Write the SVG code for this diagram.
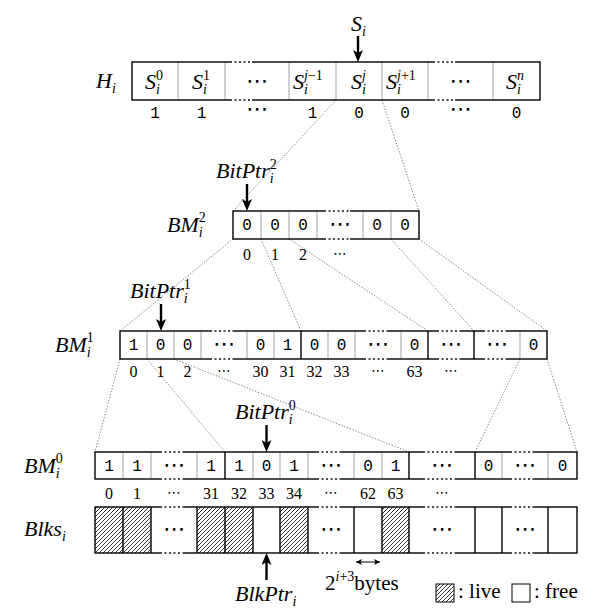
<svg xmlns="http://www.w3.org/2000/svg" width="610" height="610" viewBox="0 0 610 610">
<style>
.box{fill:none;stroke:#000;stroke-width:1.4}
.dv{stroke:#999;stroke-width:0.9}
.dk{stroke:#000;stroke-width:1.4}
.gap{stroke:#fff;stroke-width:2.2;stroke-dasharray:2.5 2}
.dot{fill:none;stroke:#666;stroke-width:0.8;stroke-dasharray:1.4 1.6}
.m{font-family:"Liberation Serif",serif;font-style:italic;font-size:22px}
.s{font-size:14px}
.n{font-style:normal}
.tt{font-family:"Liberation Mono",monospace;font-size:16px;text-anchor:middle}
.rm{font-family:"Liberation Serif",serif;font-size:16px;text-anchor:middle}
.cd{font-family:"DejaVu Sans",sans-serif;font-size:22px;text-anchor:middle}
.cds{font-family:"DejaVu Sans",sans-serif;font-size:14px;text-anchor:middle}
.rt{font-family:"Liberation Serif",serif;font-size:21px}
.arr{stroke:#000;stroke-width:2.4;fill:none}
</style>
<defs>
<marker id="ah" viewBox="0 0 12 10" refX="4" refY="5" markerWidth="12" markerHeight="10" orient="auto" markerUnits="userSpaceOnUse"><path d="M0,0 L12,5 L0,10 L3,5 z" fill="#000"/></marker>
<marker id="sa" viewBox="0 0 6 6" refX="6" refY="3" markerWidth="6" markerHeight="6" orient="auto-start-reverse" markerUnits="userSpaceOnUse"><path d="M0,0 L6,3 L0,6 L1.5,3 z" fill="#000"/></marker>
<pattern id="hatch" patternUnits="userSpaceOnUse" width="4" height="4"><path d="M-1,1 L1,-1 M0,4 L4,0 M3,5 L5,3" stroke="#000" stroke-width="0.8"/></pattern>
</defs>

<g id="connectors">
<line class="dot" x1="336" y1="100" x2="233" y2="211"/>
<line class="dot" x1="382" y1="100" x2="419" y2="211"/>
<line class="dot" x1="233" y1="239" x2="120" y2="331"/>
<line class="dot" x1="261" y1="239" x2="301" y2="331"/>
<line class="dot" x1="289" y1="239" x2="428" y2="331"/>
<line class="dot" x1="391" y1="239" x2="474" y2="331"/>
<line class="dot" x1="419" y1="239" x2="547" y2="331"/>
<line class="dot" x1="120" y1="359" x2="95" y2="452"/>
<line class="dot" x1="147" y1="359" x2="225" y2="452"/>
<line class="dot" x1="174" y1="359" x2="409" y2="452"/>
<line class="dot" x1="520" y1="359" x2="475" y2="452"/>
<line class="dot" x1="547" y1="359" x2="577" y2="452"/>
</g>

<g id="Si">
<text class="m" x="351" y="31">S<tspan class="s" dy="5">i</tspan></text>
<line class="arr" x1="358" y1="36" x2="358" y2="54" marker-end="url(#ah)"/>
</g>

<g id="Hi">
<text class="m" x="96" y="88">H<tspan class="s" dy="5">i</tspan></text>
<rect x="132" y="62" width="408" height="38" fill="#fff" stroke="none"/>
<g class="dv"><line x1="178" y1="62" x2="178" y2="100"/><line x1="225" y1="62" x2="225" y2="100"/><line x1="289" y1="62" x2="289" y2="100"/><line x1="336" y1="62" x2="336" y2="100"/><line x1="382" y1="62" x2="382" y2="100"/><line x1="428" y1="62" x2="428" y2="100"/><line x1="493" y1="62" x2="493" y2="100"/></g>
<rect class="box" x="132" y="62" width="408" height="38"/>
<g class="gap"><line x1="232" y1="62" x2="252" y2="62"/><line x1="232" y1="100" x2="252" y2="100"/><line x1="435" y1="62" x2="455" y2="62"/><line x1="435" y1="100" x2="455" y2="100"/></g>
<text class="m" x="145" y="89">S<tspan class="s n" dy="-9">0</tspan><tspan class="s" dx="-7" dy="14">i</tspan></text>
<text class="m" x="192" y="89">S<tspan class="s n" dy="-9">1</tspan><tspan class="s" dx="-7" dy="14">i</tspan></text>
<text class="cd" x="257" y="88">⋯</text>
<text class="m" x="293" y="89">S<tspan class="s" dy="-9">j</tspan><tspan class="s n">−1</tspan><tspan class="s" dx="-18.8" dy="14">i</tspan></text>
<text class="m" x="351" y="89">S<tspan class="s" dy="-9">j</tspan><tspan class="s" dx="-3.9" dy="14">i</tspan></text>
<text class="m" x="386" y="89">S<tspan class="s" dy="-9">j</tspan><tspan class="s n">+1</tspan><tspan class="s" dx="-18.8" dy="14">i</tspan></text>
<text class="cd" x="460.5" y="88">⋯</text>
<text class="m" x="506" y="89">S<tspan class="s" dy="-9">n</tspan><tspan class="s" dx="-7" dy="14">i</tspan></text>
<g class="tt"><text x="155" y="118">1</text><text x="201.5" y="118">1</text><text x="312.5" y="118">1</text><text x="359" y="118">0</text><text x="405" y="118">0</text><text x="516.5" y="118">0</text></g>
<text class="cd" x="257" y="116" font-size="17">⋯</text><text class="cd" x="460.5" y="116" font-size="17">⋯</text>
</g>

<g id="BitPtr2">
<text class="m" x="216" y="178">BitPtr<tspan class="s n" dy="-9">2</tspan><tspan class="s" dx="-7" dy="14">i</tspan></text>
<line class="arr" x1="247" y1="184" x2="247" y2="203" marker-end="url(#ah)"/>
</g>

<g id="BM2">
<text class="m" x="167" y="232">BM<tspan class="s n" dy="-10">2</tspan><tspan class="s" dx="-7" dy="15">i</tspan></text>
<g class="dv"><line x1="261" y1="211" x2="261" y2="239"/><line x1="289" y1="211" x2="289" y2="239"/><line x1="317" y1="211" x2="317" y2="239"/><line x1="363" y1="211" x2="363" y2="239"/><line x1="391" y1="211" x2="391" y2="239"/></g>
<rect class="box" x="233" y="211" width="186" height="28"/>
<g class="gap"><line x1="326" y1="211" x2="350" y2="211"/><line x1="326" y1="239" x2="350" y2="239"/></g>
<g class="tt"><text x="247" y="230">0</text><text x="275" y="230">0</text><text x="303" y="230">0</text><text x="377" y="230">0</text><text x="405" y="230">0</text></g>
<text class="cd" x="340" y="231">⋯</text>
<g class="rm"><text x="247" y="260">0</text><text x="275" y="260">1</text><text x="303" y="260">2</text></g>
<text class="cds" x="340" y="258">⋯</text>
</g>

<g id="BitPtr1">
<text class="m" x="130" y="298">BitPtr<tspan class="s n" dy="-9">1</tspan><tspan class="s" dx="-7" dy="14">i</tspan></text>
<line class="arr" x1="161" y1="304" x2="161" y2="323" marker-end="url(#ah)"/>
</g>

<g id="BM1">
<text class="m" x="55" y="352">BM<tspan class="s n" dy="-10">1</tspan><tspan class="s" dx="-7" dy="15">i</tspan></text>
<g class="dv"><line x1="147" y1="331" x2="147" y2="359"/><line x1="174" y1="331" x2="174" y2="359"/><line x1="201" y1="331" x2="201" y2="359"/><line x1="247" y1="331" x2="247" y2="359"/><line x1="274" y1="331" x2="274" y2="359"/><line x1="328" y1="331" x2="328" y2="359"/><line x1="355" y1="331" x2="355" y2="359"/><line x1="401" y1="331" x2="401" y2="359"/><line x1="520" y1="331" x2="520" y2="359"/></g>
<g class="dk"><line x1="301" y1="331" x2="301" y2="359"/><line x1="428" y1="331" x2="428" y2="359"/><line x1="474" y1="331" x2="474" y2="359"/></g>
<rect class="box" x="120" y="331" width="427" height="28"/>
<g class="gap"><line x1="212" y1="331" x2="234" y2="331"/><line x1="212" y1="359" x2="234" y2="359"/><line x1="366" y1="331" x2="388" y2="331"/><line x1="366" y1="359" x2="388" y2="359"/><line x1="439" y1="331" x2="461" y2="331"/><line x1="439" y1="359" x2="461" y2="359"/><line x1="485" y1="331" x2="507" y2="331"/><line x1="485" y1="359" x2="507" y2="359"/></g>
<g class="tt"><text x="133.5" y="350">1</text><text x="160.5" y="350">0</text><text x="187.5" y="350">0</text><text x="260.5" y="350">0</text><text x="287.5" y="350">1</text><text x="314.5" y="350">0</text><text x="341.5" y="350">0</text><text x="414.5" y="350">0</text><text x="533.5" y="350">0</text></g>
<g class="cd"><text x="224" y="351">⋯</text><text x="378" y="351">⋯</text><text x="451" y="351">⋯</text><text x="497" y="351">⋯</text></g>
<g class="rm"><text x="133.5" y="377">0</text><text x="160.5" y="377">1</text><text x="187.5" y="377">2</text><text x="260.5" y="377">30</text><text x="287.5" y="377">31</text><text x="314.5" y="377">32</text><text x="341.5" y="377">33</text><text x="414.5" y="377">63</text></g>
<g class="cds"><text x="224" y="375">⋯</text><text x="378" y="375">⋯</text><text x="451" y="375">⋯</text></g>
</g>

<g id="BitPtr0">
<text class="m" x="235" y="419">BitPtr<tspan class="s n" dy="-9">0</tspan><tspan class="s" dx="-7" dy="14">i</tspan></text>
<line class="arr" x1="266.5" y1="425" x2="266.5" y2="444" marker-end="url(#ah)"/>
</g>

<g id="BM0">
<text class="m" x="24" y="473">BM<tspan class="s n" dy="-10">0</tspan><tspan class="s" dx="-7" dy="15">i</tspan></text>
<g class="dv"><line x1="123" y1="452" x2="123" y2="479"/><line x1="151" y1="452" x2="151" y2="479"/><line x1="197" y1="452" x2="197" y2="479"/><line x1="253" y1="452" x2="253" y2="479"/><line x1="280" y1="452" x2="280" y2="479"/><line x1="308" y1="452" x2="308" y2="479"/><line x1="354" y1="452" x2="354" y2="479"/><line x1="382" y1="452" x2="382" y2="479"/><line x1="502" y1="452" x2="502" y2="479"/><line x1="548" y1="452" x2="548" y2="479"/></g>
<g class="dk"><line x1="225" y1="452" x2="225" y2="479"/><line x1="409" y1="452" x2="409" y2="479"/><line x1="475" y1="452" x2="475" y2="479"/></g>
<rect class="box" x="95" y="452" width="482" height="27"/>
<g class="gap"><line x1="162" y1="452" x2="184" y2="452"/><line x1="162" y1="479" x2="184" y2="479"/><line x1="319" y1="452" x2="341" y2="452"/><line x1="319" y1="479" x2="341" y2="479"/><line x1="425" y1="452" x2="455" y2="452"/><line x1="425" y1="479" x2="455" y2="479"/><line x1="512" y1="452" x2="534" y2="452"/><line x1="512" y1="479" x2="534" y2="479"/></g>
<g class="tt"><text x="109" y="471">1</text><text x="137" y="471">1</text><text x="211" y="471">1</text><text x="239" y="471">1</text><text x="266.5" y="471">0</text><text x="294" y="471">1</text><text x="368" y="471">0</text><text x="395.5" y="471">1</text><text x="488.5" y="471">0</text><text x="562.5" y="471">0</text></g>
<g class="cd"><text x="174" y="472">⋯</text><text x="331" y="472">⋯</text><text x="442" y="472">⋯</text><text x="525" y="472">⋯</text></g>
<g class="rm"><text x="109" y="499">0</text><text x="137" y="499">1</text><text x="211" y="499">31</text><text x="239" y="499">32</text><text x="266.5" y="499">33</text><text x="294" y="499">34</text><text x="368" y="499">62</text><text x="395.5" y="499">63</text></g>
<g class="cds"><text x="174" y="497">⋯</text><text x="331" y="497">⋯</text><text x="442" y="497">⋯</text></g>
</g>

<g id="Blks">
<text class="m" x="24" y="536">Blks<tspan class="s" dy="5">i</tspan></text>
<g fill="url(#hatch)" stroke="none"><rect x="95" y="507" width="28" height="46"/><rect x="123" y="507" width="28" height="46"/><rect x="197" y="507" width="28" height="46"/><rect x="225" y="507" width="28" height="46"/><rect x="280" y="507" width="28" height="46"/><rect x="382" y="507" width="27" height="46"/></g>
<g class="dk"><line x1="123" y1="507" x2="123" y2="553"/><line x1="151" y1="507" x2="151" y2="553"/><line x1="197" y1="507" x2="197" y2="553"/><line x1="225" y1="507" x2="225" y2="553"/><line x1="253" y1="507" x2="253" y2="553"/><line x1="280" y1="507" x2="280" y2="553"/><line x1="308" y1="507" x2="308" y2="553"/><line x1="354" y1="507" x2="354" y2="553"/><line x1="382" y1="507" x2="382" y2="553"/><line x1="409" y1="507" x2="409" y2="553"/><line x1="475" y1="507" x2="475" y2="553"/><line x1="502" y1="507" x2="502" y2="553"/><line x1="548" y1="507" x2="548" y2="553"/></g>
<rect class="box" x="95" y="507" width="482" height="46"/>
<g class="gap"><line x1="162" y1="507" x2="184" y2="507"/><line x1="162" y1="553" x2="184" y2="553"/><line x1="319" y1="507" x2="341" y2="507"/><line x1="319" y1="553" x2="341" y2="553"/><line x1="425" y1="507" x2="455" y2="507"/><line x1="425" y1="553" x2="455" y2="553"/><line x1="512" y1="507" x2="534" y2="507"/><line x1="512" y1="553" x2="534" y2="553"/></g>
<g class="cd"><text x="174" y="536">⋯</text><text x="331" y="536">⋯</text><text x="442" y="536">⋯</text><text x="525" y="536">⋯</text></g>
</g>

<g id="BlkPtr">
<line class="arr" x1="266.5" y1="580" x2="266.5" y2="561" marker-end="url(#ah)"/>
<text class="m" x="235" y="601">BlkPtr<tspan class="s" dy="5">i</tspan></text>
</g>

<g id="bytes">
<line x1="356" y1="562" x2="380" y2="562" stroke="#000" stroke-width="1" marker-start="url(#sa)" marker-end="url(#sa)"/>
<text class="rt" x="325" y="590">2<tspan font-size="14" dy="-9"><tspan font-style="italic">i</tspan>+3</tspan><tspan dy="9">bytes</tspan></text>
</g>

<g id="legend">
<rect x="436" y="584" width="18" height="18" fill="url(#hatch)" stroke="#000" stroke-width="1"/>
<text class="rt" x="458" y="598" font-size="20">: live</text>
<rect x="512" y="584" width="18" height="18" fill="#fff" stroke="#000" stroke-width="1"/>
<text class="rt" x="534" y="598" font-size="20">: free</text>
</g>
</svg>
